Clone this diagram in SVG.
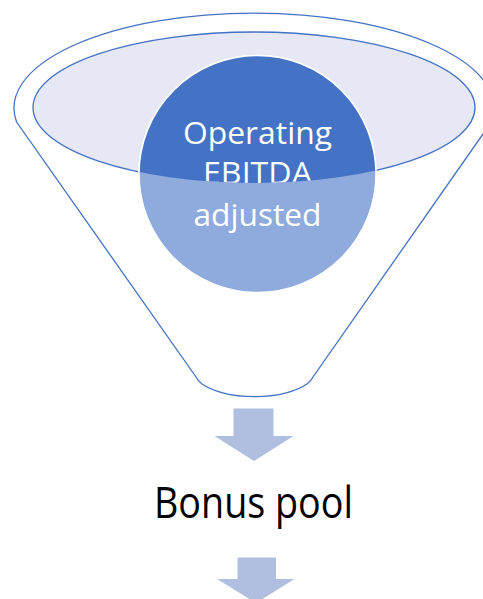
<svg xmlns="http://www.w3.org/2000/svg" width="483" height="599" viewBox="0 0 483 599">
  <style>
    .outline { stroke: #4472C4; stroke-width: 1.3; }
    .label { font-family: "Open Sans", "Noto Sans", "Liberation Sans", sans-serif; }
    .white { fill: #FFFFFF; font-size: 31.5px; text-anchor: middle; }
    .arrow { fill: #B0BEE0; }
  </style>
  <defs>
    <clipPath id="innerClip">
      <ellipse cx="254" cy="107.5" rx="221" ry="75.5"/>
    </clipPath>
  </defs>
  <rect width="483" height="599" fill="#FFFFFF"/>
  <g id="funnel">
    <path class="outline" fill="#FFFFFF" d="M16.6,122 A240,95 0 1,1 491.4,122 L313,377 Q311,381 307,384 A62,27 0 0,1 202,384 Q198,381 196,377 Z"/>
  </g>
  <g id="funnel-top">
    <ellipse class="outline" cx="254" cy="107.5" rx="221" ry="75.5" fill="#E6E9F5"/>
  </g>
  <g id="operating-ebitda">
    <circle cx="257.5" cy="174" r="118.5" fill="#8FAADC" stroke="#FFFFFF" stroke-width="1.5"/>
    <circle cx="257.5" cy="174" r="118.5" fill="#4472C4" stroke="#FFFFFF" stroke-width="1.5" clip-path="url(#innerClip)"/>
    <g clip-path="url(#innerClip)">
      <text class="label white" x="257.5" y="144" textLength="149" lengthAdjust="spacingAndGlyphs">Operating</text>
      <text class="label white" x="257.5" y="184" textLength="109" lengthAdjust="spacingAndGlyphs">EBITDA</text>
    </g>
    <text class="label white" x="257.5" y="226" textLength="128" lengthAdjust="spacingAndGlyphs">adjusted</text>
  </g>
  <g id="bonus-pool">
    <text class="label" x="154" y="518" font-size="43" fill="#000000" textLength="199" lengthAdjust="spacingAndGlyphs">Bonus pool</text>
  </g>
  <g id="connectors">
    <polygon class="arrow" points="233.5,408.5 273.5,408.5 273.5,436 293.5,436 254,461 214.5,436 233.5,436"/>
    <polygon class="arrow" points="237.5,557.5 276,557.5 276,579 294.5,579 256,603 217,579 237.5,579"/>
  </g>
</svg>
